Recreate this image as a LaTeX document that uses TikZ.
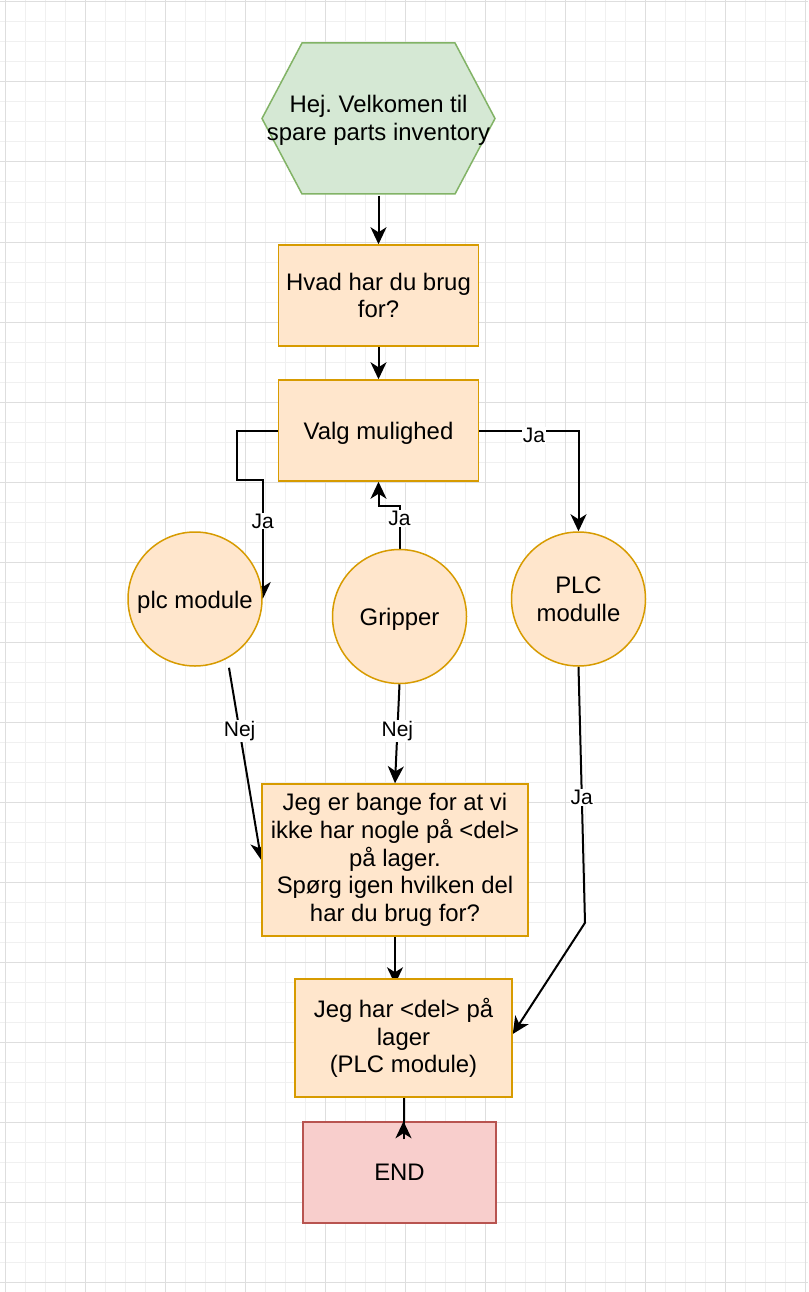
\documentclass[tikz,border=0pt]{standalone}
\usepackage{fontspec}
\setmainfont{Liberation Sans}
\usetikzlibrary{arrows.meta,calc}
\pgfdeclarelayer{gridlayer}
\pgfdeclarelayer{edgelayer}
\pgfsetlayers{gridlayer,edgelayer,main}
\definecolor{gfill}{HTML}{D5E8D4}
\definecolor{gline}{HTML}{82B366}
\definecolor{ofill}{HTML}{FFE6CC}
\definecolor{oline}{HTML}{D79B00}
\definecolor{rfill}{HTML}{F8CECC}
\definecolor{rline}{HTML}{B85450}
\definecolor{minorg}{HTML}{F0F0F0}
\definecolor{majorg}{HTML}{DEDEDE}
\frenchspacing
\newcommand{\lowertxt}[1]{\raisebox{-3pt}[\height][\depth]{#1}}
\tikzset{
  txt/.style={font=\fontsize{23.9}{27.8}\selectfont, align=center, inner sep=0pt},
  obox/.style={txt, rectangle, draw=oline, fill=ofill, line width=1.5pt},
  rbox/.style={txt, rectangle, draw=rline, fill=rfill, line width=1.5pt},
  circ/.style={txt, circle, draw=oline, fill=ofill, line width=1.5pt, minimum size=134pt},
  conn/.style={draw=black, line width=2pt, -{Stealth[length=17pt,width=16pt,inset=5pt]}},
  plainline/.style={draw=black, line width=2pt},
  elabel/.style={font=\fontsize{21}{24}\selectfont, fill=white, inner sep=1pt},
  minorline/.style={draw=minorg, line width=1pt},
  majorline/.style={draw=majorg, line width=1pt}
}
\begin{document}
\begin{tikzpicture}[x=1pt,y=-1pt]
\useasboundingbox (0,0) rectangle (808,1292);
\begin{pgfonlayer}{gridlayer}
  \fill[white] (0,0) rectangle (808,1292);
  \foreach \i in {0,...,40} \draw[minorline] (5+20*\i,0) -- (5+20*\i,1292);
  \foreach \j in {0,...,64} \draw[minorline] (0,2+20*\j) -- (808,2+20*\j);
  \foreach \i in {0,...,10} \draw[majorline] (5+80*\i,0) -- (5+80*\i,1292);
  \foreach \j in {0,...,16} \draw[majorline] (0,2+80*\j) -- (808,2+80*\j);
\end{pgfonlayer}

% start hexagon
\coordinate (hc) at (378.5,118.5);
\draw[draw=gline, fill=gfill, line width=1.5pt]
  ($(hc)+(-76.5,-75.5)$) -- ($(hc)+(76.5,-75.5)$) -- ($(hc)+(116.5,0)$) --
  ($(hc)+(76.5,75.5)$) -- ($(hc)+(-76.5,75.5)$) -- ($(hc)+(-116.5,0)$) -- cycle;
\node[txt, minimum width=233pt, minimum height=151pt, yshift=-1.5pt] (hex) at (hc) {Hej. Velkomen til\\spare parts inventory};

\node[obox, minimum width=200pt, minimum height=101pt] (hvad) at (378.5,295.5) {Hvad har du brug\\for?};
\node[obox, minimum width=200pt, minimum height=101pt] (valg) at (378.5,430.5) {\lowertxt{Valg mulighed}};
\node[circ] (plc) at (195,599) {\lowertxt{plc module}};
\node[circ] (grip) at (399.5,616.5) {\lowertxt{Gripper}};
\node[circ] (plc2) at (578.5,599) {PLC\\modulle};
\node[obox, minimum width=266pt, minimum height=152pt] (bange) at (395,860)
  {Jeg er bange for at vi\\ikke har nogle på <del>\\på lager.\\Spørg igen hvilken del\\har du brug for?};
\node[obox, minimum width=217pt, minimum height=118pt] (har) at (403.5,1038)
  {Jeg har <del> på\\lager\\(PLC module)};
\node[rbox, minimum width=193pt, minimum height=101pt] (endbox) at (399.5,1172.5) {END};

\begin{pgfonlayer}{edgelayer}
  \draw[conn] (hex.south) -- (hvad.north);
  \draw[conn] (hvad.south) -- (valg.north);
  \draw[conn] (valg.west) -- ++(-41,0) |- ($(plc.east)+(0,-119)$)
     -- node[elabel, pos=0.345] {Ja} (plc.east);
  \draw[conn] (valg.east) -| node[elabel, pos=0.275, yshift=-5pt] {Ja} (plc2.north);
  \draw[conn] (grip.north) -- node[elabel, pos=0.7] {Ja} ++(0,-43) -| (valg.south);
  \draw[conn] ($(plc.south)+(34,1)$) -- node[elabel, pos=0.33] {Nej} (bange.west);
  \draw[conn] (grip.south) -- node[elabel, pos=0.47] {Nej} (bange.north);
  \draw[conn] (plc2.south) -- node[elabel, pos=0.51] {Ja} ++(6.5,256) -- ($(har.east)+(0,-4)$);
  \draw[conn] (bange.south) -- ($(bange.south |- har.north)+(0,6)$);
\end{pgfonlayer}

\coordinate (etail) at ($(har.south |- endbox.north)+(0,18)$);
\draw[plainline] (har.south) -- (etail);
\draw[conn] (etail) -- (har.south |- endbox.north);
\end{tikzpicture}
\end{document}
